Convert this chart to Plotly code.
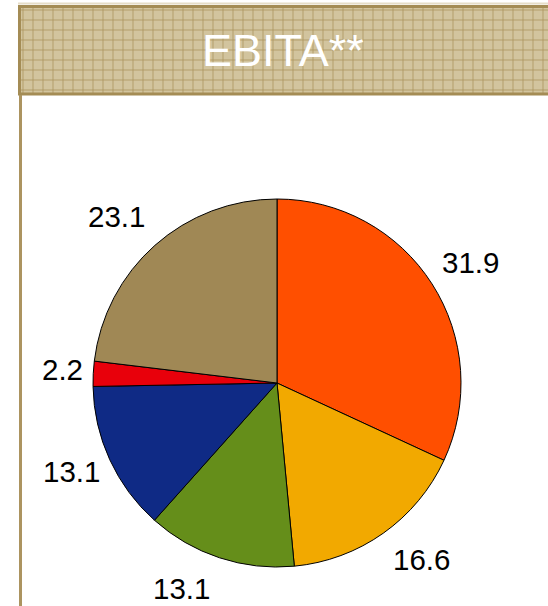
import math
import plotly.graph_objects as go

# EBITA split by segment (per cent), clockwise from 12 o'clock
segments = ["Segment A", "Segment B", "Segment C", "Segment D", "Segment E", "Segment F"]
ebita_share = [31.9, 16.6, 13.1, 13.1, 2.2, 23.1]
segment_colors = ["#FF4F00", "#F2A900", "#658E1A", "#0F2A85", "#E8000B", "#A08855"]
title_text = "EBITA**"

W, H = 548, 606
FONT = "Liberation Sans, Arial, sans-serif"

fig = go.Figure()

# Textured title band
fig.add_trace(go.Bar(
    x=[0.5], y=[1], width=[1], base=[0],
    marker=dict(
        color="#D2C49E",
        line=dict(width=0),
        pattern=dict(shape="+", size=10, solidity=0.16,
                     fgcolor="#AC9460", bgcolor="#D2C49E", fillmode="replace"),
    ),
    hoverinfo="skip", showlegend=False,
    xaxis="x", yaxis="y",
))

# Pie of segment shares
cx, cy, r = 277, 383, 184
fig.add_trace(go.Pie(
    labels=segments,
    values=ebita_share,
    sort=False,
    direction="clockwise",
    rotation=0,
    marker=dict(colors=segment_colors, line=dict(color="#000000", width=1)),
    textinfo="none",
    showlegend=False,
    hoverinfo="label+value",
    domain=dict(x=[(cx - r) / W, (cx + r) / W],
                y=[(H - cy - r) / H, (H - cy + r) / H]),
))

# Value labels just outside each slice, along the slice's middle direction
annotations = []
total = sum(ebita_share)
cum = 0.0
for v in ebita_share:
    theta = 2 * math.pi * (cum + v / 2) / total
    cum += v
    ux, uy = math.sin(theta), -math.cos(theta)      # screen direction (y down)
    px = cx + r * ux + (9 if ux >= 0 else -9)
    py = cy + r * uy + 35 * uy - 2.5
    annotations.append(dict(
        text=f"{v:.1f}", xref="paper", yref="paper",
        x=px / W, y=1 - py / H,
        xanchor="left" if ux >= 0 else "right", yanchor="middle",
        showarrow=False, borderpad=0,
        font=dict(family=FONT, size=29.5, color="#000000"),
    ))

annotations.append(dict(
    text=title_text, xref="paper", yref="paper",
    x=283 / W, y=1 - 50 / H,
    xanchor="center", yanchor="middle", showarrow=False,
    font=dict(family=FONT, size=45, color="#FFFFFF"),
))

band_top, band_bottom, band_left = 5, 95, 18

fig.update_layout(
    width=W, height=H,
    margin=dict(l=0, r=0, t=0, b=0),
    paper_bgcolor="#FFFFFF",
    plot_bgcolor="rgba(0,0,0,0)",
    bargap=0,
    xaxis=dict(domain=[band_left / W, 1], range=[0, 1], visible=False, fixedrange=True),
    yaxis=dict(domain=[(H - band_bottom) / H, (H - band_top) / H], range=[0, 1],
               visible=False, fixedrange=True),
    shapes=[
        # thin pale rule above the band
        dict(type="line", xref="paper", yref="paper",
             x0=band_left / W, x1=1, y0=(H - 3.5) / H, y1=(H - 3.5) / H,
             line=dict(color="#E6DDC8", width=2)),
        # band frame
        dict(type="rect", xref="paper", yref="paper",
             x0=(band_left + 1.5) / W, x1=1.01,
             y0=(H - band_bottom + 1) / H, y1=(H - band_top - 1.5) / H,
             line=dict(color="#A48C55", width=3)),
        # vertical rule down the left side
        dict(type="line", xref="paper", yref="paper",
             x0=20.5 / W, x1=20.5 / W, y0=0, y1=(H - band_bottom) / H,
             line=dict(color="#AC9460", width=3)),
    ],
    annotations=annotations,
)

fig.write_html("out.html")
